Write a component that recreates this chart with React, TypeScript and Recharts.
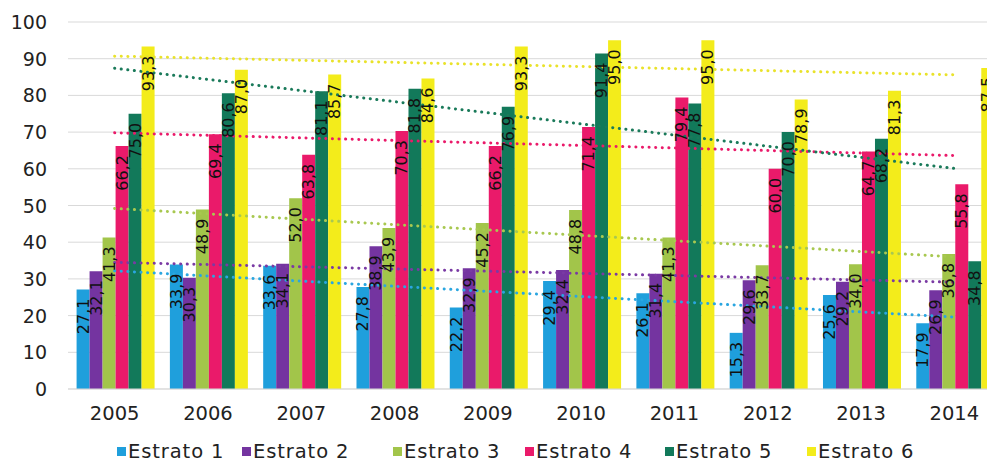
import { ComposedChart, Bar, Line, XAxis, YAxis, CartesianGrid, LabelList } from "recharts";

const years = ["2005", "2006", "2007", "2008", "2009", "2010", "2011", "2012", "2013", "2014"];
const seriesNames = ["Estrato 1", "Estrato 2", "Estrato 3", "Estrato 4", "Estrato 5", "Estrato 6"];

const estrato1 = [27.1, 33.9, 33.6, 27.8, 22.2, 29.4, 26.1, 15.3, 25.6, 17.9];
const estrato2 = [32.1, 30.3, 34.1, 38.9, 32.9, 32.4, 31.4, 29.6, 29.2, 26.9];
const estrato3 = [41.3, 48.9, 52.0, 43.9, 45.2, 48.8, 41.3, 33.7, 34.0, 36.8];
const estrato4 = [66.2, 69.4, 63.8, 70.3, 66.2, 71.4, 79.4, 60.0, 64.7, 55.8];
const estrato5 = [75.0, 80.6, 81.1, 81.8, 76.9, 91.4, 77.8, 70.0, 68.2, 34.8];
const estrato6 = [93.3, 87.0, 85.7, 84.6, 93.3, 95.0, 95.0, 78.9, 81.3, 87.5];

// dotted trend lines: value at 2005 and at 2014
const trendStart = [32.2, 34.5, 49.2, 69.8, 87.4, 90.7];
const trendEnd = [19.6, 29.1, 36.0, 63.6, 60.1, 85.6];

const yTicks = [0, 10, 20, 30, 40, 50, 60, 70, 80, 90, 100];

const barColors = ["#1f9fdc", "#7434a0", "#a2c54a", "#ea1a6a", "#12795a", "#f3ec1b"];
const trendColors = ["#2aa6e0", "#7a3aa4", "#a8c850", "#ea1a6a", "#1a7a5a", "#e9e22a"];
const legendX = [117, 242, 393, 525, 665, 807];

const allSeries = [estrato1, estrato2, estrato3, estrato4, estrato5, estrato6];

const data = years.map((year, i) => {
  const row: Record<string, string | number | null> = { year };
  allSeries.forEach((s, k) => {
    row[`e${k}`] = s[i];
    row[`t${k}`] = i === 0 ? trendStart[k] : i === years.length - 1 ? trendEnd[k] : null;
  });
  return row;
});

const FONT = "'DejaVu Sans', sans-serif";

function BarLabel(props: any) {
  const { x, y, width, value } = props;
  if (value == null) return null;
  const cx = Number(x) + Number(width) / 2;
  const ty = Number(y) + 9;
  return (
    <text
      transform={`translate(${cx},${ty}) rotate(-90)`}
      textAnchor="end"
      dominantBaseline="central"
      fontSize={16}
      fontFamily={FONT}
      fill="#111"
    >
      {Number(value).toFixed(1).replace(".", ",")}
    </text>
  );
}

function XTick(props: any) {
  const { x, y, payload } = props;
  return (
    <text x={x} y={y + 24} textAnchor="middle" dominantBaseline="central" fontSize={19.5} fontFamily={FONT} fill="#222">
      {payload.value}
    </text>
  );
}

function YTick(props: any) {
  const { x, y, payload } = props;
  return (
    <text x={x - 21} y={y} textAnchor="end" dominantBaseline="central" fontSize={19} fontFamily={FONT} fill="#222">
      {payload.value}
    </text>
  );
}

export default function App() {
  return (
    <div style={{ position: "fixed", left: 0, top: 0, width: 987, height: 464, overflow: "hidden", background: "#fff" }}>
      <ComposedChart
        width={1010}
        height={464}
        data={data}
        margin={{ top: 22, right: 9, left: 8, bottom: 0 }}
        barCategoryGap="9.2%"
        barGap={0}
      >
        <CartesianGrid vertical={false} stroke="#d9d9d9" />
        <XAxis
          dataKey="year"
          height={75}
          tickSize={0}
          tickMargin={0}
          axisLine={{ stroke: "#d9d9d9" }}
          tickLine={false}
          tick={<XTick />}
          interval={0}
        />
        <YAxis
          width={60}
          domain={[0, 100]}
          ticks={yTicks}
          tickSize={0}
          tickMargin={0}
          axisLine={false}
          tickLine={false}
          tick={<YTick />}
          interval={0}
        />
        {seriesNames.map((name, k) => (
          <Bar key={name} dataKey={`e${k}`} name={name} fill={barColors[k]} isAnimationActive={false}>
            <LabelList dataKey={`e${k}`} content={<BarLabel />} />
          </Bar>
        ))}
        {seriesNames.map((name, k) => (
          <Line
            key={`trend-${name}`}
            dataKey={`t${k}`}
            type="linear"
            stroke={trendColors[k]}
            strokeWidth={3}
            strokeLinecap="round"
            strokeDasharray="0.1 6.5"
            dot={false}
            activeDot={false}
            connectNulls
            legendType="none"
            isAnimationActive={false}
          />
        ))}
      </ComposedChart>
      {seriesNames.map((name, k) => (
        <div
          key={name}
          style={{
            position: "absolute",
            left: legendX[k],
            top: 442,
            height: 20,
            lineHeight: "20px",
            fontFamily: FONT,
            fontSize: 19.5,
            letterSpacing: 0.9,
            color: "#222",
            whiteSpace: "nowrap",
          }}
        >
          <span
            style={{
              width: 9,
              height: 9,
              background: barColors[k],
              marginRight: 2,
              display: "inline-block",
              verticalAlign: "middle",
              position: "relative",
              top: -1,
            }}
          />
          {name}
        </div>
      ))}
    </div>
  );
}
